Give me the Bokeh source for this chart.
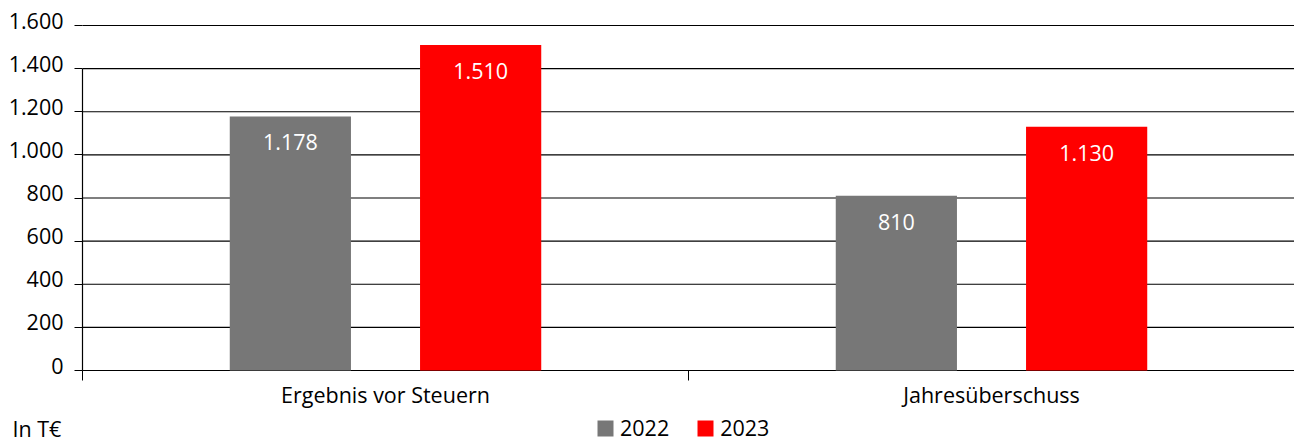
from bokeh.plotting import figure
from bokeh.models import (Range1d, FixedTicker, ColumnDataSource,
                          Legend, LegendItem, Label)
from bokeh.core.properties import value
from bokeh.embed import file_html
from bokeh.resources import INLINE

categories = ["Ergebnis vor Steuern", "Jahresüberschuss"]
series_names = ["2022", "2023"]
values_2022 = [1178, 810]
values_2023 = [1510, 1130]
y_ticks = [0, 200, 400, 600, 800, 1000, 1200, 1400, 1600]
y_tick_labels = ["0", "200", "400", "600", "800", "1.000", "1.200", "1.400", "1.600"]
unit_label = "In T€"

FONT = "Open Sans"
FS = "21.5px"
GRAY = "#777777"
RED = "#FF0000"
TXT = "#000000"

W, H = 1294, 443
# pixel geometry of the plotting area (axes are drawn inside the frame)
PX_LEFT, PX_RIGHT = 82, 1294
PX_TOP, PX_ZERO = 25, 370
n_cat = len(categories)
ymax = y_ticks[-1]
ppu_y = (PX_ZERO - PX_TOP) / ymax
ppu_x = (PX_RIGHT - PX_LEFT) / n_cat

p = figure(width=W, height=H, output_backend="svg", toolbar_location=None,
           x_range=Range1d(-PX_LEFT / ppu_x, n_cat + (W - PX_RIGHT) / ppu_x),
           y_range=Range1d(-(H - PX_ZERO) / ppu_y, ymax + PX_TOP / ppu_y),
           min_border=0, min_border_left=0, min_border_right=0,
           min_border_top=0, min_border_bottom=0)
p.outline_line_color = None
p.background_fill_color = "white"
p.border_fill_color = "white"
p.xgrid.visible = False
p.ygrid.visible = False

idx = list(range(n_cat))
off = 0.157
w = 0.2

# grid lines from the axis to the right edge
p.segment(x0=[0] * len(y_ticks), y0=y_ticks, x1=[n_cat + 1] * len(y_ticks), y1=y_ticks,
          line_color="black", line_width=1.2)
# vertical axis line from 0 up to 1400
p.segment(x0=[0], y0=[y_ticks[0]], x1=[0], y1=[y_ticks[-2]], line_color="black", line_width=1.2)

src22 = ColumnDataSource(dict(x=[i + 0.5 - off for i in idx], top=values_2022,
                              lab=[f"{v:,}".replace(",", ".") for v in values_2022]))
src23 = ColumnDataSource(dict(x=[i + 0.5 + off for i in idx], top=values_2023,
                              lab=[f"{v:,}".replace(",", ".") for v in values_2023]))

r22 = p.vbar(x="x", top="top", width=w, bottom=0, source=src22, fill_color=GRAY, line_color=None)
r23 = p.vbar(x="x", top="top", width=w, bottom=0, source=src23, fill_color=RED, line_color=None)

for s in (src22, src23):
    p.text(x="x", y="top", text="lab", source=s, text_color="white",
           text_font=value(FONT), text_font_size=FS, text_align="center",
           text_baseline="middle", y_offset=26)

# y axis (drawn at x = 0 inside the frame); tick labels sit slightly above the lines
p.yaxis.fixed_location = 0
p.yaxis.ticker = FixedTicker(ticks=y_ticks)
p.yaxis.axis_line_color = None
p.yaxis.major_tick_out = 8
p.yaxis.major_tick_in = 0
p.yaxis.major_tick_line_color = "black"
p.yaxis.minor_tick_line_color = None
p.yaxis.major_label_text_color = None
p.yaxis.major_label_text_font_size = "1px"
p.text(x=[0] * len(y_ticks), y=y_ticks, text=y_tick_labels, x_offset=-19, y_offset=-5,
       text_align="right", text_baseline="middle", text_color=TXT,
       text_font=value(FONT), text_font_size=FS)

# x axis (drawn at y = 0 inside the frame)
p.xaxis.fixed_location = 0
p.xaxis.ticker = FixedTicker(ticks=[i + 0.5 for i in idx], minor_ticks=list(range(n_cat + 1)))
p.xaxis.major_label_overrides = {i + 0.5: c for i, c in zip(idx, categories)}
p.xaxis.major_tick_out = 0
p.xaxis.major_tick_in = 0
p.xaxis.minor_tick_out = 10
p.xaxis.minor_tick_in = 0
p.xaxis.minor_tick_line_color = "black"
p.xaxis.axis_line_color = None
p.xaxis.major_label_standoff = -1
p.xaxis.major_label_text_font = FONT
p.xaxis.major_label_text_font_size = FS
p.xaxis.major_label_text_color = TXT

legend = Legend(items=[LegendItem(label=series_names[0], renderers=[r22]),
                       LegendItem(label=series_names[1], renderers=[r23])],
                orientation="horizontal", location=(595, 1),
                glyph_width=20, glyph_height=20, label_standoff=5, spacing=26,
                padding=0, margin=0, border_line_color=None, background_fill_alpha=0,
                label_text_font=FONT, label_text_font_size=FS, label_text_color=TXT)
p.add_layout(legend, "center")

p.add_layout(Label(x=12, y=1, x_units="screen", y_units="screen", text=unit_label,
                   text_font=FONT, text_font_size=FS, text_color=TXT,
                   text_baseline="bottom"))

open("out.html", "w").write(file_html(p, INLINE))
